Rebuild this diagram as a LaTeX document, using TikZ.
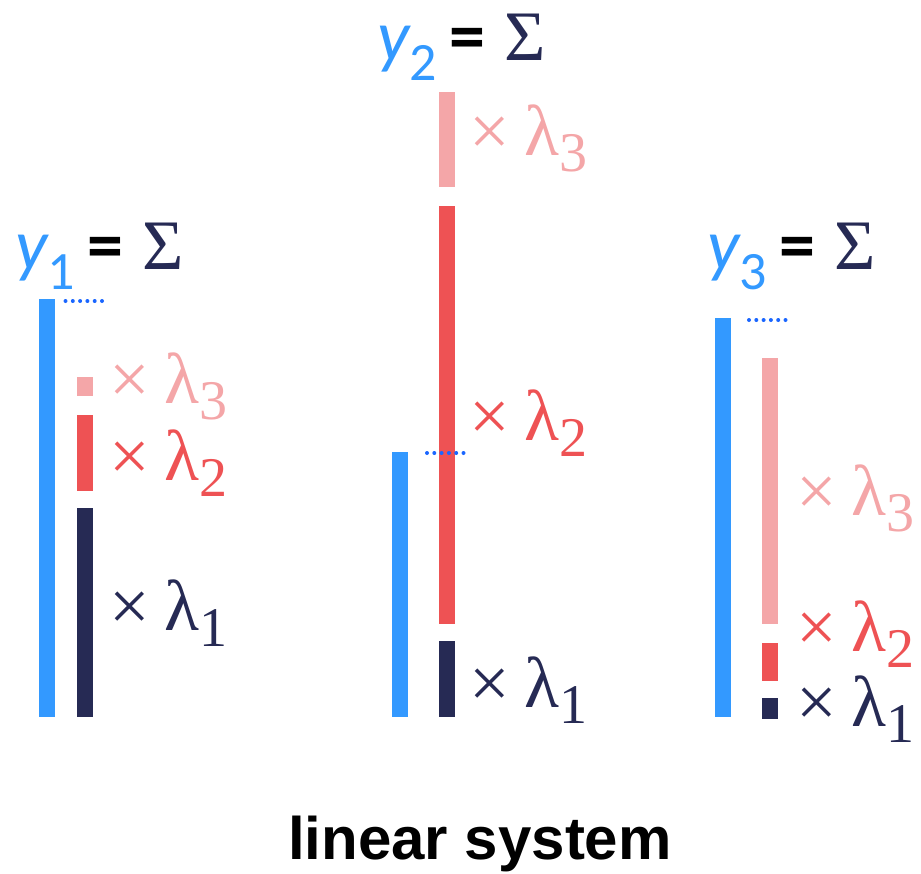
\documentclass[tikz,border=0pt]{standalone}
\usepackage{fontspec}
\usepackage{tikz}
\usetikzlibrary{positioning}
\newfontfamily\calfont{Carlito}
\newfontfamily\capfont{Liberation Sans}
\newfontfamily\symfont{Liberation Serif}
\definecolor{LinBlue}{HTML}{3399FF}
\definecolor{LinPink}{HTML}{F4A6A8}
\definecolor{LinRed}{HTML}{EE5254}
\definecolor{LinNavy}{HTML}{262A54}
\definecolor{LinDot}{HTML}{1A66FF}
\newcommand{\ysum}[1]{{\calfont\fontsize{72}{86}\selectfont\color{LinBlue}\itshape y}%
  \raisebox{-20pt}{\calfont\fontsize{54}{60}\selectfont\color{LinBlue}#1}%
  \hspace{13pt}{\calfont\bfseries\fontsize{72}{86}\selectfont =}\hspace{19pt}%
  {\symfont\fontsize{71}{80}\selectfont\color{LinNavy}Σ}}
\newcommand{\lamtimes}[1]{×\hspace{15pt}λ\raisebox{-16pt}{\fontsize{56}{60}\selectfont #1}}

\begin{document}
\begin{tikzpicture}[x=1pt,y=-1pt,
    coeflabel/.style={anchor=base west,inner sep=0pt,font=\symfont\fontsize{72}{86}\selectfont},
    sumlabel/.style={anchor=base west,inner sep=0pt}]
  \useasboundingbox (0,0) rectangle (921,873);
  % bars: y_k on the left, weighted parts beside it
  \foreach \x/\t/\b/\c in {39/299/717/LinBlue,77/377/396/LinPink,77/415/491/LinRed,77/508/717/LinNavy,
      392/452/717/LinBlue,439/92/187/LinPink,439/206/624/LinRed,439/641/717/LinNavy,
      715/318/717/LinBlue,762/358/624/LinPink,762/643/681/LinRed,762/698/719/LinNavy}
    \fill[\c] (\x,\t) rectangle (\x+16,\b);
  % level of y_k
  \foreach \x/\y in {65.5/301,427/453,749/320}
    \foreach \k in {0,...,5}
      \fill[LinDot] (\x+\k*7.3,\y) circle (2pt);
  \foreach \x/\y/\c/\n [count=\i] in {109/403/LinPink/3,109/480/LinRed/2,109/630/LinNavy/1,
      469/155/LinPink/3,469/440/LinRed/2,469/707/LinNavy/1,
      796/515/LinPink/3,796/651/LinRed/2,796/726/LinNavy/1}
    \node[coeflabel,text=\c] (lam\i) at (\x,\y) {\lamtimes{\n}};
  \node[sumlabel] (sum1) at (15,269) {\ysum{1}};
  \node[sumlabel] (sum2) at (377,60) {\ysum{2}};
  \node[sumlabel] (sum3) at (707,269) {\ysum{3}};
  \node[anchor=base,inner sep=0pt,font=\capfont\bfseries\fontsize{60}{70}\selectfont] (caption) at (480,859) {linear system};
\end{tikzpicture}
\end{document}
